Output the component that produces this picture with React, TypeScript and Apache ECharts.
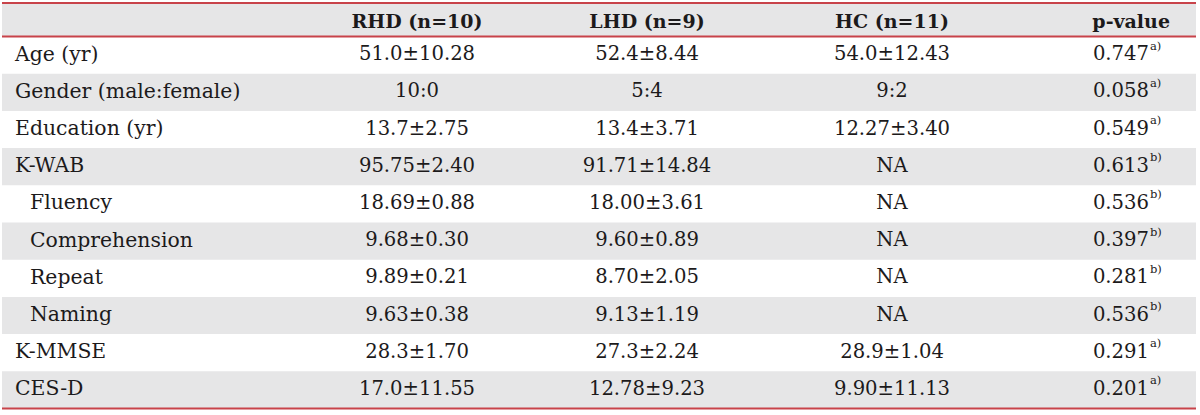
import React, { useEffect, useRef } from "react";
import * as echarts from "echarts";

const headers = ["", "RHD (n=10)", "LHD (n=9)", "HC (n=11)", "p-value"];
const rowLabels = [
  "Age (yr)",
  "Gender (male:female)",
  "Education (yr)",
  "K-WAB",
  "Fluency",
  "Comprehension",
  "Repeat",
  "Naming",
  "K-MMSE",
  "CES-D",
];
const indented = [false, false, false, false, true, true, true, true, false, false];
const rhdValues = ["51.0±10.28", "10:0", "13.7±2.75", "95.75±2.40", "18.69±0.88", "9.68±0.30", "9.89±0.21", "9.63±0.38", "28.3±1.70", "17.0±11.55"];
const lhdValues = ["52.4±8.44", "5:4", "13.4±3.71", "91.71±14.84", "18.00±3.61", "9.60±0.89", "8.70±2.05", "9.13±1.19", "27.3±2.24", "12.78±9.23"];
const hcValues = ["54.0±12.43", "9:2", "12.27±3.40", "NA", "NA", "NA", "NA", "NA", "28.9±1.04", "9.90±11.13"];
const pValues = ["0.747", "0.058", "0.549", "0.613", "0.536", "0.397", "0.281", "0.536", "0.291", "0.201"];
const pNotes = ["a)", "a)", "a)", "b)", "b)", "b)", "b)", "b)", "a)", "a)"];

const FONT = "'DejaVu Serif', serif";
const TEXT = "#1c1a1b";
const GRAY = "#e6e6e7";
const RED = "#c8434a";

export default function App() {
  const ref = useRef<HTMLDivElement>(null);
  useEffect(() => {
    if (!ref.current) return;
    const chart = echarts.init(ref.current, null, { renderer: "svg" });
    const left = 2;
    const right = 1196;
    const headTop = 3;
    const headBottom = 36.5;
    const rowH = 37.2;
    const colX = [15, 417, 647, 892];
    const pRight = 1149;
    const elements: any[] = [];

    elements.push({ type: "rect", shape: { x: left, y: headTop, width: right - left, height: headBottom - headTop }, style: { fill: GRAY } });
    rowLabels.forEach((_, i) => {
      if (i % 2 === 1) {
        elements.push({ type: "rect", shape: { x: left, y: headBottom + i * rowH, width: right - left, height: rowH }, style: { fill: GRAY } });
      }
    });
    const bottom = headBottom + rowLabels.length * rowH;
    [headTop, headBottom, bottom].forEach((y) => {
      elements.push({ type: "line", shape: { x1: left, y1: y, x2: right, y2: y }, style: { stroke: RED, lineWidth: 2 } });
    });

    const hy = (headTop + headBottom) / 2 + 1;
    headers.forEach((h, j) => {
      if (!h) return;
      const isP = j === 4;
      elements.push({
        type: "text",
        x: isP ? 1170 : colX[j],
        y: hy,
        style: { text: h, font: `bold 19px ${FONT}`, fill: TEXT, align: isP ? "right" : "center", verticalAlign: "middle" },
      });
    });

    rowLabels.forEach((label, i) => {
      const cy = headBottom + (i + 0.5) * rowH - 1.5;
      elements.push({ type: "text", x: indented[i] ? 30 : colX[0], y: cy, style: { text: label, font: `20.4px ${FONT}`, fill: TEXT, align: "left", verticalAlign: "middle" } });
      [rhdValues, lhdValues, hcValues].forEach((arr, k) => {
        elements.push({ type: "text", x: colX[k + 1], y: cy, style: { text: arr[i], font: `19.6px ${FONT}`, fill: TEXT, align: "center", verticalAlign: "middle" } });
      });
      elements.push({ type: "text", x: pRight, y: cy, style: { text: pValues[i], font: `19.6px ${FONT}`, fill: TEXT, align: "right", verticalAlign: "middle" } });
      elements.push({ type: "text", x: pRight + 1, y: cy - 8, style: { text: pNotes[i], font: `11.5px ${FONT}`, fill: TEXT, align: "left", verticalAlign: "middle" } });
    });

    chart.setOption({ animation: false, graphic: { elements } });
    return () => chart.dispose();
  }, []);
  return <div ref={ref} style={{ position: "fixed", left: 0, top: 0, width: 1200, height: 415, background: "#fff" }} />;
}
